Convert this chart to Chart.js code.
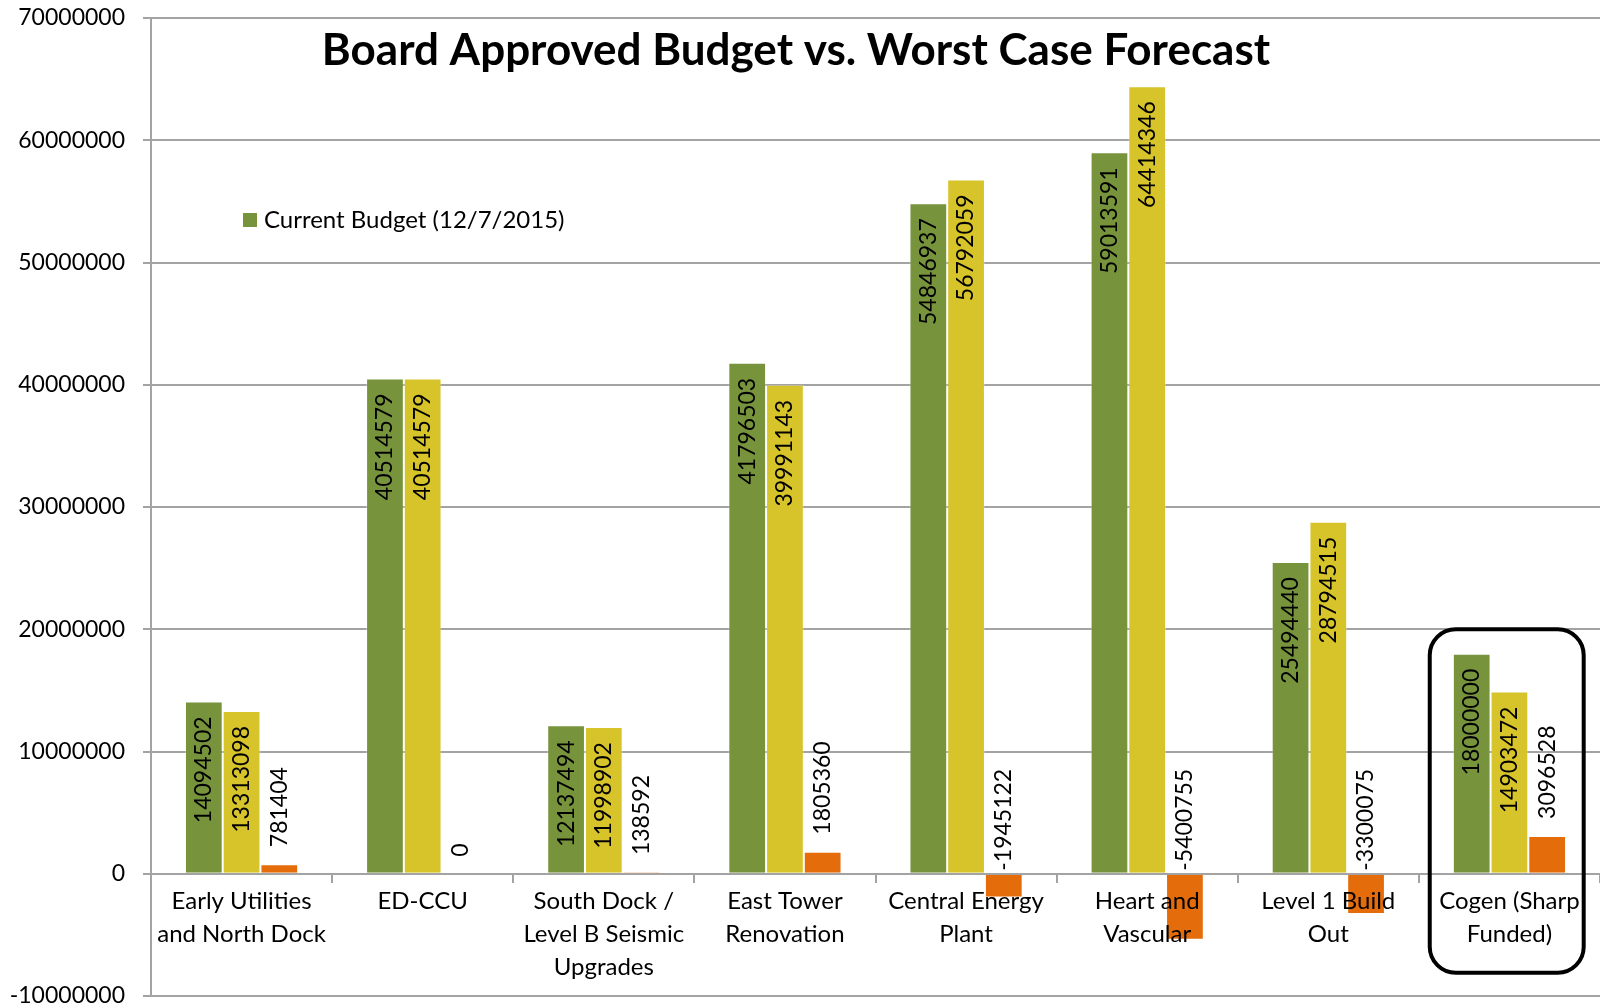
<!DOCTYPE html>
<html>
<head>
<meta charset="utf-8">
<script src="https://cdn.jsdelivr.net/npm/chart.js@4.4.1/dist/chart.umd.min.js"></script>
<style>
  html, body { margin: 0; padding: 0; background: #fff; }
  canvas { display: block; }
</style>
</head>
<body>
<canvas id="grafico" width="1600" height="1008"></canvas>
<script>
// dados
var categories = [
    ["Early Utilities", "and North Dock"],
    ["ED-CCU"],
    ["South Dock /", "Level B Seismic", "Upgrades"],
    ["East Tower", "Renovation"],
    ["Central Energy", "Plant"],
    ["Heart and", "Vascular"],
    ["Level 1 Build", "Out"],
    ["Cogen (Sharp", "Funded)"]
];
var currentBudget = [14094502, 40514579, 12137494, 41796503, 54846937, 59013591, 25494440, 18000000];
var worstCase = [13313098, 40514579, 11998902, 39991143, 56792059, 64414346, 28794515, 14903472];
var variance = [781404, 0, 138592, 1805360, -1945122, -5400755, -3300075, 3096528];
var yTicks = [-10000000, 0, 10000000, 20000000, 30000000, 40000000, 50000000, 60000000, 70000000];

var chartTitle = "Board Approved Budget vs. Worst Case Forecast";
var boxedCategory = 7;

var gridColor = '#a3a3a3';
Chart.defaults.font.family = 'Lato';
Chart.defaults.color = '#000';

// rótulos girados nas barras
var barLabels = {
    id: 'barLabels',
    afterDatasetsDraw: function (chart) {
        var ctx = chart.ctx;
        var zero = chart.scales.y.getPixelForValue(0);
        ctx.save();
        ctx.font = '23px Lato';
        ctx.fillStyle = '#000';
        ctx.textBaseline = 'middle';
        chart.data.datasets.forEach(function (ds, i) {
            chart.getDatasetMeta(i).data.forEach(function (bar, j) {
                var v = ds.data[j];
                ctx.save();
                if (i < 2) {
                    ctx.translate(bar.x, bar.y + 15);
                    ctx.rotate(-Math.PI / 2);
                    ctx.textAlign = 'right';
                } else {
                    ctx.translate(bar.x, v >= 0 ? bar.y - 17 : zero - 3);
                    ctx.rotate(-Math.PI / 2);
                    ctx.textAlign = 'left';
                }
                ctx.fillText(String(v), 0, 0);
                ctx.restore();
            });
        });
        ctx.restore();
    }
};

// titulo, legenda e a caixa do Cogen
var extras = {
    id: 'extras',
    afterDraw: function (chart) {
        var ctx = chart.ctx;
        ctx.save();
        ctx.fillStyle = '#000';
        ctx.font = 'bold 44px Lato';
        ctx.textAlign = 'center';
        ctx.textBaseline = 'alphabetic';
        ctx.fillText(chartTitle, chart.width / 2 - 4, 65);

        var ds = chart.data.datasets[0];
        ctx.fillStyle = ds.backgroundColor;
        ctx.fillRect(243, 213, 14, 14);
        ctx.fillStyle = '#000';
        ctx.font = '24px Lato';
        ctx.textAlign = 'left';
        ctx.fillText(ds.label, 264, 228);

        var xs = chart.scales.x, ys = chart.scales.y;
        var cx = xs.getPixelForValue(boxedCategory);
        var half = xs.width / categories.length / 2;
        var x1 = cx - half * 0.88, x2 = cx + half * 0.82;
        var y1 = ys.getPixelForValue(20000000), y2 = ys.getPixelForValue(-8100000);
        var r = 26;
        ctx.beginPath();
        ctx.moveTo(x1 + r, y1);
        ctx.arcTo(x2, y1, x2, y2, r);
        ctx.arcTo(x2, y2, x1, y2, r);
        ctx.arcTo(x1, y2, x1, y1, r);
        ctx.arcTo(x1, y1, x2, y1, r);
        ctx.closePath();
        ctx.lineWidth = 4;
        ctx.strokeStyle = '#000';
        ctx.stroke();
        ctx.restore();
    }
};

var ctx = document.getElementById('grafico');

var barChart = new Chart(ctx, {
    type: 'bar',
    data: {
        labels: categories,
        datasets: [{
            label: "Current Budget (12/7/2015)",
            data: currentBudget,
            backgroundColor: '#77933c',
            borderColor: 'rgba(255,255,255,0.3)',
            borderWidth: 1
        },
        {
            label: "Worst Case Forecast",
            data: worstCase,
            backgroundColor: '#d7c32a',
            borderColor: 'rgba(255,255,255,0.3)',
            borderWidth: 1
        },
        {
            label: "Variance",
            data: variance,
            backgroundColor: '#e46c0a',
            borderColor: 'rgba(255,255,255,0.3)',
            borderWidth: 1
        }]
    },
    options: {
        responsive: false,
        animation: false,
        devicePixelRatio: 1,
        datasets: {
            bar: { categoryPercentage: 0.625, barPercentage: 1 }
        },
        layout: {
            padding: { top: 18, bottom: 12, left: 0, right: 0 }
        },
        plugins: {
            legend: { display: false },
            title: { display: false },
            tooltip: { enabled: false }
        },
        scales: {
            x: {
                position: { y: 0 },
                grid: { drawOnChartArea: false, drawTicks: true, tickLength: 8, color: gridColor, lineWidth: 2, offset: true, z: 1 },
                border: { color: gridColor, width: 2, z: 1 },
                ticks: { font: { size: 24, lineHeight: 1.375 }, padding: 3, maxRotation: 0, autoSkip: false, z: 1 }
            },
            y: {
                min: -10000000,
                max: 70000000,
                afterBuildTicks: function (s) {
                    s.ticks = yTicks.map(function (v) { return { value: v }; });
                },
                afterFit: function (s) {
                    s.width = 151;
                    s.paddingTop = 0;
                    s.paddingBottom = 0;
                },
                grid: { color: gridColor, lineWidth: 2, tickLength: 8 },
                border: { color: gridColor, width: 2 },
                ticks: {
                    font: { size: 23, lineHeight: 1 },
                    padding: 18,
                    callback: function (v) { return String(v); }
                }
            }
        }
    },
    plugins: [barLabels, extras]
});
</script>
</body>
</html>
